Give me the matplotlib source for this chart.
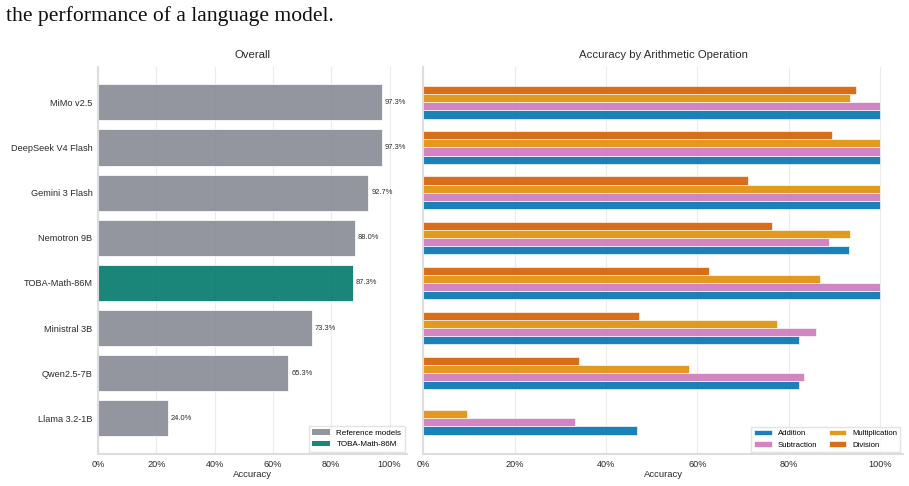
import numpy as np
import matplotlib
matplotlib.use("Agg")
import matplotlib.pyplot as plt
from matplotlib.patches import Patch
from matplotlib.ticker import PercentFormatter

# model names, top to bottom
models = ["MiMo v2.5", "DeepSeek V4 Flash", "Gemini 3 Flash", "Nemotron 9B",
          "TOBA-Math-86M", "Ministral 3B", "Qwen2.5-7B", "Llama 3.2-1B"]
overall = [0.973, 0.973, 0.927, 0.880, 0.873, 0.733, 0.653, 0.240]
ours = "TOBA-Math-86M"

# per-operation accuracy (same model order)
operations = ["Addition", "Subtraction", "Multiplication", "Division"]
addition = [1.000, 1.000, 1.000, 0.933, 1.000, 0.822, 0.822, 0.468]
subtraction = [1.000, 1.000, 1.000, 0.889, 1.000, 0.860, 0.833, 0.332]
multiplication = [0.935, 1.000, 1.000, 0.935, 0.869, 0.774, 0.581, 0.096]
division = [0.947, 0.895, 0.711, 0.763, 0.625, 0.473, 0.341, 0.000]

ref_color = "#888b95"
ours_color = "#00796b"
op_colors = ["#0173b2", "#cc78bc", "#de8f05", "#d55e00"]
text_color = "#2a2a2a"
spine_color = "#dddddd"

plt.rcParams["font.family"] = ["Liberation Sans", "DejaVu Sans"]

fig = plt.figure(figsize=(9.09, 4.86), dpi=100)
fig.text(0.007, 1 - 21 / 486, "the performance of a language model.", family="Liberation Serif",
         fontsize=15.6, va="baseline", ha="left", color="#111111")

ax1 = fig.add_axes([0.1078, 0.0658, 0.34, 0.797])
ax2 = fig.add_axes([0.4657, 0.0658, 0.5274, 0.797])

y = np.arange(len(models))


def style_axis(ax, title):
    ax.set_title(title, fontsize=8.2, color=text_color, pad=6)
    ax.set_xlabel("Accuracy", fontsize=6.8, color=text_color, labelpad=1)
    ax.xaxis.set_major_formatter(PercentFormatter(1.0, decimals=0))
    ax.set_xticks([0, 0.2, 0.4, 0.6, 0.8, 1.0])
    ax.tick_params(axis="both", length=0, labelsize=6.6, labelcolor=text_color, pad=4)
    ax.grid(axis="x", color="#ececec", linewidth=0.8)
    ax.grid(axis="y", visible=False)
    ax.set_axisbelow(True)
    for side in ["top", "right"]:
        ax.spines[side].set_visible(False)
    for side in ["left", "bottom"]:
        ax.spines[side].set_color(spine_color)
        ax.spines[side].set_linewidth(1.5)
    ax.invert_yaxis()


# left: overall accuracy
colors = [ours_color if m == ours else ref_color for m in models]
ax1.barh(y, overall, height=0.8, color=colors, alpha=0.9, edgecolor="white", linewidth=0.6)
for yi, v in zip(y, overall):
    ax1.text(v + 0.01, yi, f"{v * 100:.1f}%", va="center", ha="left", fontsize=5.4, color=text_color)
ax1.set_yticks(y)
ax1.set_yticklabels(models)
ax1.set_xlim(0, 1.06)
style_axis(ax1, "Overall")
ax1.legend(handles=[Patch(facecolor=ref_color, alpha=0.9, label="Reference models"),
                    Patch(facecolor=ours_color, alpha=0.9, label="TOBA-Math-86M")],
           loc="lower right", fontsize=5.8, frameon=True, edgecolor="#dddddd",
           fancybox=False, handlelength=2.2, borderaxespad=0.3)

# right: accuracy by operation
h = 0.18
offsets = [0.27, 0.09, -0.09, -0.27]
for vals, off, col, name in zip([addition, subtraction, multiplication, division],
                                offsets, op_colors, operations):
    ax2.barh(y + off, vals, height=h, color=col, alpha=0.9, edgecolor="white",
             linewidth=0.5, label=name)
ax2.set_yticks(y)
ax2.set_yticklabels([])
ax2.set_xlim(0, 1.05)
style_axis(ax2, "Accuracy by Arithmetic Operation")
ax2.set_ylim(7.79, -0.79)
ax2.legend(loc="lower right", ncol=2, fontsize=5.6, frameon=True, edgecolor="#dddddd",
           fancybox=False, handlelength=2.2, columnspacing=1.5, borderaxespad=0.3)

fig.savefig("out.png", dpi=100)
